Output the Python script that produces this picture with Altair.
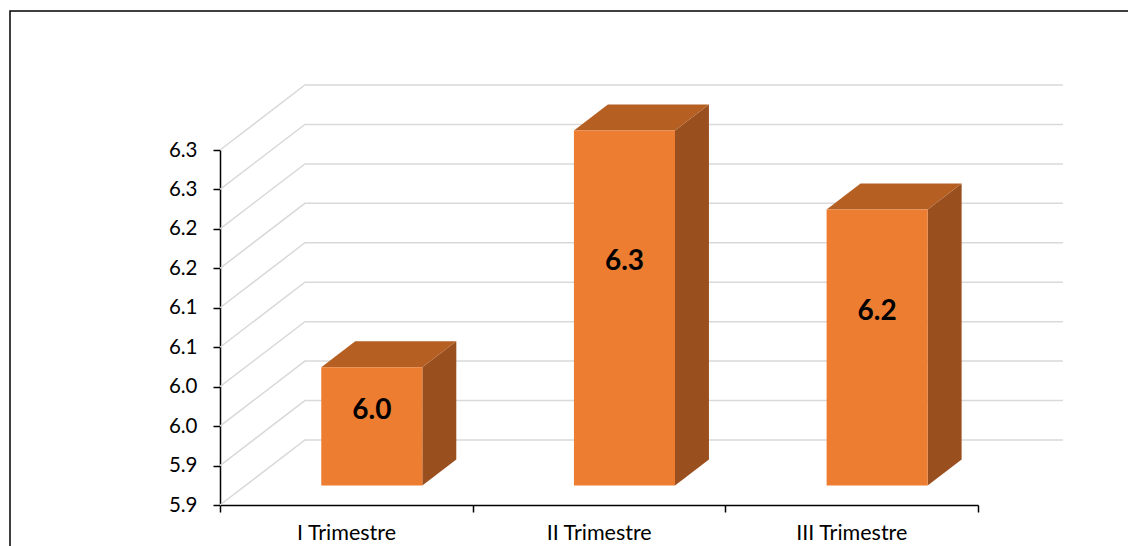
import json
import altair as alt
import pandas as pd

# ---- data ----
categories = ["I Trimestre", "II Trimestre", "III Trimestre"]
values = [6.0, 6.3, 6.2]
value_labels = ["6.0", "6.3", "6.2"]
tick_values = [5.85, 5.90, 5.95, 6.00, 6.05, 6.10, 6.15, 6.20, 6.25, 6.30]
tick_labels = ["5.9", "5.9", "6.0", "6.0", "6.1", "6.1", "6.2", "6.2", "6.3", "6.3"]

# ---- 3D geometry (in scale units) ----
BASE, TOP = 5.85, 6.30
DX, DY = 0.336, 0.0824          # depth of the floor / wall
FRONT, BACK = 0.30, 0.70        # depth range occupied by the bars
HALF = 0.20                     # half bar width
LABEL_FRAC = 0.63

front_rows, side_rows, top_rows, grid_rows = [], [], [], []
for i, (c, v, l) in enumerate(zip(categories, values, value_labels)):
    cx = i + 0.5
    front_rows.append(dict(bar=c, x=cx - HALF + FRONT * DX, x2=cx + HALF + FRONT * DX,
                           y=BASE + FRONT * DY, y2=v + FRONT * DY, label=l,
                           tx=cx + FRONT * DX,
                           ty=BASE + FRONT * DY + LABEL_FRAC * (v - BASE)))
    for d in (FRONT, BACK):
        side_rows.append(dict(bar=c, sx=cx + HALF + d * DX, sy=v + d * DY, sy2=BASE + d * DY))
        top_rows.append(dict(bar=c, ty=v + d * DY, tx=cx - HALF + d * DX, tx2=cx + HALF + d * DX))
for t in tick_values:
    grid_rows.append(dict(t=t, o=0, x=0.0, y=t))
    grid_rows.append(dict(t=t, o=1, x=DX, y=t + DY))
    grid_rows.append(dict(t=t, o=2, x=3 + DX, y=t + DY))

front = pd.DataFrame(front_rows)
side = pd.DataFrame(side_rows)
topf = pd.DataFrame(top_rows)
grid = pd.DataFrame(grid_rows)

xscale = alt.Scale(domain=[0, 3], nice=False, zero=False)
yscale = alt.Scale(domain=[BASE, TOP], nice=False, zero=False)

xaxis = alt.Axis(values=[0, 1, 2, 3],
                 labelExpr=f"datum.value < 3 ? {json.dumps(categories)}[datum.value] : ''",
                 labelOffset=126, labelFlush=False, labelFontSize=21.5, labelPadding=10,
                 tickSize=7, labelOverlap=False)
yaxis = alt.Axis(values=tick_values,
                 labelExpr=f"{json.dumps(tick_labels)}[indexof({json.dumps(tick_values)}, datum.value)]",
                 labelFontSize=20.5, labelPadding=16, tickSize=7, labelOverlap=False)


def X(f):
    return alt.X(f, type="quantitative", scale=xscale, axis=xaxis, title="")


def Y(f):
    return alt.Y(f, type="quantitative", scale=yscale, axis=yaxis, title="")


gridlines = alt.Chart(grid).mark_line(color="#D9D9D9", strokeWidth=1.5).encode(
    x=X("x"), y=Y("y"), detail="t:N", order="o:Q")

side_face = alt.Chart(side).mark_area(color="#9A4F1F", orient="vertical").encode(
    x=X("sx"), y=Y("sy"), y2=alt.Y2("sy2"), detail="bar:N")

top_face = alt.Chart(topf).mark_area(color="#B65F23", orient="horizontal").encode(
    y=Y("ty"), x=X("tx"), x2=alt.X2("tx2"), detail="bar:N")

front_face = alt.Chart(front).mark_rect(color="#ED7D31").encode(
    x=X("x"), x2="x2", y=Y("y"), y2="y2")

labels = alt.Chart(front).mark_text(font="Lato", fontSize=28, fontWeight="bold",
                                    color="black", baseline="middle").encode(
    x=X("tx"), y=Y("ty"), text="label:N")

frame = alt.Chart(pd.DataFrame({"a": [0]})).mark_rect(
    fillOpacity=0, stroke="black", strokeWidth=1.5).encode(
    x=alt.value(-210), x2=alt.value(940), y=alt.value(-139), y2=alt.value(430))

chart = alt.layer(gridlines, side_face, top_face, front_face, labels, frame).properties(
    width=758, height=355,
    autosize=alt.AutoSizeParams(type="none"),
    padding={"left": 212, "top": 142, "right": 150, "bottom": 41},
).configure_view(strokeWidth=0).configure_axis(
    domainColor="black", domainWidth=1.5, tickColor="black", tickWidth=1.5,
    labelColor="black", labelFont="Lato", grid=False)

chart.save("out.html", embed_options={"renderer": "svg", "actions": False})
